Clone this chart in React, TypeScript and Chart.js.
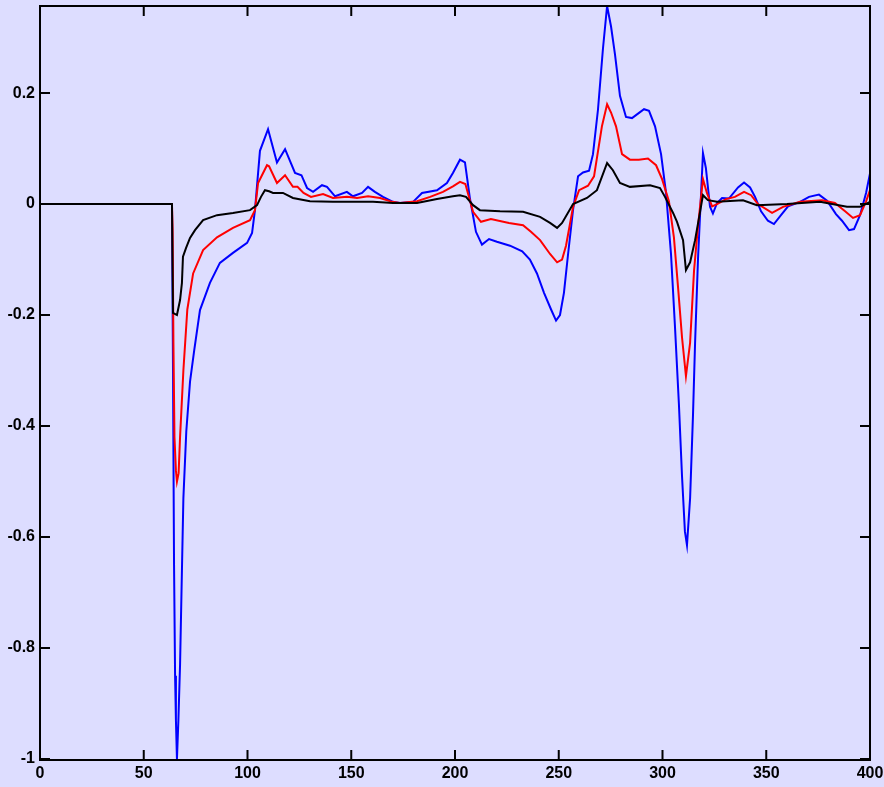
import React, { useEffect, useRef } from "react";
import { Chart, registerables } from "chart.js";

Chart.register(...registerables);

const xTicks = [0, 50, 100, 150, 200, 250, 300, 350, 400];
const yTicks = [-1, -0.8, -0.6, -0.4, -0.2, 0, 0.2];

const blackX = [0, 63.6, 64.1, 66.0, 67.5, 68.4, 68.9, 70.4, 72.3, 74.7, 78.6, 85.3, 93.0, 101.2, 104.6, 106.5, 108.4, 110.4, 112.3, 117.1, 121.9, 130.1, 141.2, 160.5, 170.1, 181.7, 191.3, 199.0, 202.4, 205.3, 208.7, 212.0, 221.7, 232.8, 241.0, 245.8, 249.2, 251.6, 256.9, 263.6, 268.4, 273.3, 276.1, 279.5, 284.3, 294.0, 298.8, 301.2, 305.1, 307.0, 309.9, 311.3, 313.3, 315.7, 318.1, 319.5, 321.9, 326.3, 338.8, 345.5, 360.0, 375.9, 388.9, 395.2, 400];
const blackY = [0, 0, -0.196, -0.2, -0.173, -0.142, -0.095, -0.079, -0.061, -0.047, -0.029, -0.02, -0.016, -0.011, -0.002, 0.013, 0.025, 0.023, 0.02, 0.02, 0.011, 0.005, 0.004, 0.004, 0.002, 0.002, 0.009, 0.014, 0.016, 0.013, -0.002, -0.011, -0.013, -0.014, -0.023, -0.034, -0.043, -0.034, 0, 0.011, 0.025, 0.074, 0.061, 0.038, 0.031, 0.034, 0.029, 0.013, -0.016, -0.032, -0.065, -0.119, -0.105, -0.065, -0.014, 0.016, 0.007, 0.004, 0.007, -0.002, 0, 0.004, -0.005, -0.005, 0.004];

const redX = [0, 63.6, 63.9, 64.3, 64.8, 65.5, 66.0, 66.8, 67.5, 69.1, 71.0, 73.8, 78.6, 85.3, 93.0, 101.2, 103.6, 105.1, 109.4, 110.4, 114.2, 118.1, 121.9, 124.1, 127.0, 130.6, 136.4, 141.2, 148.0, 152.8, 158.1, 163.9, 169.6, 173.5, 181.7, 188.0, 194.2, 199.0, 202.4, 205.0, 208.7, 212.5, 217.3, 226.0, 232.8, 236.6, 241.0, 245.8, 249.2, 251.6, 253.5, 256.9, 259.8, 264.1, 267.0, 270.8, 273.3, 275.2, 277.6, 280.5, 284.3, 288.6, 293.0, 296.9, 299.8, 303.1, 305.5, 307.5, 309.4, 311.3, 313.3, 315.2, 317.1, 319.5, 321.4, 323.9, 326.3, 330.6, 334.9, 339.3, 342.7, 346.0, 352.8, 358.1, 366.3, 376.9, 383.1, 388.0, 391.8, 395.2, 398.1, 400];
const redY = [0, 0, -0.044, -0.25, -0.42, -0.48, -0.5, -0.485, -0.42, -0.3, -0.19, -0.125, -0.083, -0.06, -0.043, -0.029, -0.011, 0.038, 0.07, 0.068, 0.038, 0.052, 0.031, 0.031, 0.02, 0.013, 0.018, 0.011, 0.013, 0.011, 0.014, 0.011, 0.004, 0.002, 0.005, 0.013, 0.022, 0.032, 0.04, 0.036, -0.014, -0.032, -0.027, -0.034, -0.038, -0.05, -0.065, -0.09, -0.105, -0.1, -0.075, -0.005, 0.025, 0.033, 0.05, 0.14, 0.18, 0.165, 0.14, 0.09, 0.08, 0.08, 0.082, 0.07, 0.045, 0.005, -0.06, -0.15, -0.24, -0.31, -0.25, -0.12, -0.04, 0.045, 0.02, -0.004, 0, 0.009, 0.013, 0.022, 0.016, 0, -0.016, -0.005, 0.004, 0.007, 0.002, -0.013, -0.025, -0.02, 0.005, 0.025];

const blueX = [0, 63.6, 64.1, 64.6, 65.1, 65.5, 66.0, 66.7, 67.5, 68.4, 69.1, 70.5, 72.3, 74.3, 77.1, 81.9, 86.7, 93.0, 99.8, 102.2, 103.6, 106.0, 109.9, 114.2, 118.1, 122.9, 126.0, 128.7, 131.6, 135.9, 138.3, 142.2, 147.9, 150.8, 155.2, 158.1, 161.4, 165.3, 170.1, 173.5, 179.8, 184.1, 191.3, 196.1, 199.0, 202.4, 204.8, 207.2, 210.1, 213.0, 216.4, 220.2, 226.5, 232.4, 236.1, 239.5, 242.9, 246.3, 248.7, 250.6, 252.5, 254.5, 256.9, 259.3, 261.7, 264.6, 266.5, 268.9, 271.3, 273.3, 275.2, 277.1, 279.5, 282.4, 285.3, 288.2, 291.1, 293.5, 296.4, 299.3, 301.7, 304.1, 306.0, 307.9, 309.4, 310.8, 311.8, 313.3, 314.7, 315.7, 317.1, 318.6, 319.5, 320.9, 322.9, 324.3, 326.3, 328.7, 332.0, 336.4, 339.3, 342.2, 344.6, 347.5, 350.8, 353.7, 357.1, 360.5, 366.3, 370.6, 375.4, 379.3, 383.6, 386.5, 389.9, 392.3, 395.2, 398.1, 400];
const blueY = [0, 0, -0.3, -0.65, -0.85, -0.93, -1.0, -0.93, -0.83, -0.66, -0.53, -0.41, -0.32, -0.264, -0.191, -0.142, -0.106, -0.088, -0.07, -0.052, -0.011, 0.096, 0.135, 0.075, 0.099, 0.056, 0.052, 0.029, 0.022, 0.034, 0.031, 0.014, 0.022, 0.014, 0.02, 0.031, 0.022, 0.013, 0.004, 0.002, 0.004, 0.02, 0.025, 0.038, 0.056, 0.08, 0.075, 0.01, -0.05, -0.073, -0.063, -0.068, -0.075, -0.085, -0.1, -0.125, -0.16, -0.19, -0.21, -0.2, -0.16, -0.09, -0.01, 0.05, 0.057, 0.06, 0.09, 0.17, 0.28, 0.357, 0.32, 0.27, 0.195, 0.157, 0.155, 0.163, 0.171, 0.168, 0.14, 0.09, 0.02, -0.09, -0.22, -0.36, -0.49, -0.59, -0.615, -0.53, -0.38, -0.25, -0.1, 0.02, 0.092, 0.065, -0.005, -0.017, 0.002, 0.011, 0.01, 0.03, 0.039, 0.03, 0.013, -0.013, -0.03, -0.036, -0.02, -0.004, 0.004, 0.013, 0.017, 0.006, -0.018, -0.03, -0.047, -0.045, -0.02, 0.02, 0.055];

const BG = "#DDDDFF";
const FONT = { family: "'Liberation Sans', Arial, sans-serif", size: 16, weight: "bold" as const };

const zip = (xs: number[], ys: number[]) => xs.map((x, i) => ({ x, y: ys[i] }));

const boxPlugin = {
  id: "matlabBox",
  afterDraw(chart: any) {
    const { ctx, chartArea } = chart;
    const { left, right, top, bottom } = chartArea;
    const xs = chart.scales.x;
    const ys = chart.scales.y;
    ctx.save();
    ctx.strokeStyle = "#000";
    ctx.lineWidth = 2;
    ctx.beginPath();
    ctx.rect(left, top, right - left, bottom - top);
    ctx.stroke();
    const tl = 10;
    ctx.beginPath();
    xTicks.forEach((v) => {
      const px = xs.getPixelForValue(v);
      ctx.moveTo(px, bottom);
      ctx.lineTo(px, bottom - tl);
      ctx.moveTo(px, top);
      ctx.lineTo(px, top + tl);
    });
    yTicks.forEach((v) => {
      const py = ys.getPixelForValue(v);
      ctx.moveTo(left, py);
      ctx.lineTo(left + tl, py);
      ctx.moveTo(right, py);
      ctx.lineTo(right - tl, py);
    });
    ctx.stroke();
    ctx.restore();
  },
};

export default function App() {
  const ref = useRef<HTMLCanvasElement | null>(null);
  useEffect(() => {
    document.body.style.margin = "0";
    document.body.style.background = BG;
    const canvas = ref.current;
    if (!canvas) return;
    const chart = new Chart(canvas, {
      type: "line",
      data: {
        datasets: [
          { label: "black", data: zip(blackX, blackY), borderColor: "#000000", borderWidth: 2, order: 0 },
          { label: "red", data: zip(redX, redY), borderColor: "#FF0000", borderWidth: 2, order: 1 },
          { label: "blue", data: zip(blueX, blueY), borderColor: "#0000FF", borderWidth: 2, order: 2 },
        ],
      },
      options: {
        responsive: false,
        animation: false,
        devicePixelRatio: 1,
        layout: { padding: { left: 0, right: 14, top: 6, bottom: 0 } },
        elements: { point: { radius: 0 }, line: { tension: 0, fill: false } },
        plugins: { legend: { display: false }, tooltip: { enabled: false }, title: { display: false } },
        scales: {
          x: {
            type: "linear",
            min: 0,
            max: 400,
            grid: { display: false, drawTicks: false, tickLength: 0 },
            border: { display: false },
            afterBuildTicks: (s: any) => {
              s.ticks = xTicks.map((v) => ({ value: v }));
            },
            afterFit: (s: any) => {
              s.height = 27;
              s.paddingLeft = 0;
              s.paddingRight = 0;
            },
            ticks: { color: "#000", font: FONT, padding: 4, maxRotation: 0, autoSkip: false, callback: (v: any) => String(v) },
          },
          y: {
            type: "linear",
            min: -1.002,
            max: 0.357,
            grid: { display: false, drawTicks: false, tickLength: 0 },
            border: { display: false },
            afterBuildTicks: (s: any) => {
              s.ticks = yTicks.map((v) => ({ value: v }));
            },
            afterFit: (s: any) => {
              s.width = 40;
              s.paddingTop = 0;
              s.paddingBottom = 0;
            },
            ticks: { color: "#000", font: FONT, padding: 5, autoSkip: false, callback: (v: any) => String(v) },
          },
        },
      },
      plugins: [boxPlugin],
    });
    return () => chart.destroy();
  }, []);
  return (
    <div style={{ position: "absolute", left: 0, top: 0, width: 884, height: 787, background: BG }}>
      <canvas ref={ref} width={884} height={787} style={{ display: "block", width: 884, height: 787 }} />
    </div>
  );
}
